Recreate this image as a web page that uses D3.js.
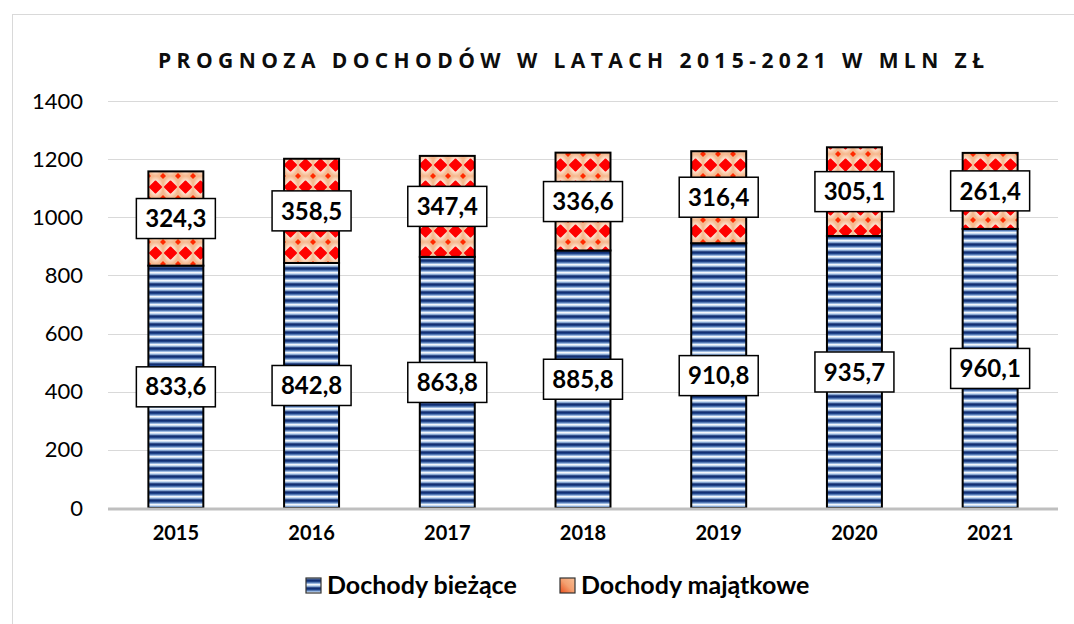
<!DOCTYPE html>
<html>
<head>
<meta charset="utf-8">
<script src="https://cdn.jsdelivr.net/npm/d3@7"></script>
<style>
  html, body { margin: 0; padding: 0; background: #fff; }
  svg { display: block; font-family: Lato, "Open Sans", sans-serif; }
</style>
</head>
<body>
<svg id="chart" width="1074" height="624"></svg>
<script>
const years = ["2015", "2016", "2017", "2018", "2019", "2020", "2021"];
const biezace = [833.6, 842.8, 863.8, 885.8, 910.8, 935.7, 960.1];
const majatkowe = [324.3, 358.5, 347.4, 336.6, 316.4, 305.1, 261.4];
const yTicks = [0, 200, 400, 600, 800, 1000, 1200, 1400];
const seriesNames = ["Dochody bieżące", "Dochody majątkowe"];
const title = "PROGNOZA DOCHODÓW W LATACH 2015-2021 W MLN ZŁ";

const svg = d3.select("#chart");
const plot = { left: 108, right: 1058, top: 101, bottom: 508 };

// chart area border (top and left visible in the frame)
svg.append("rect").attr("x", 12.5).attr("y", 14.5).attr("width", 1100).attr("height", 650)
  .attr("fill", "#fff").attr("stroke", "#d9d9d9").attr("stroke-width", 1);

const defs = svg.append("defs");

// blue stripes pattern
const bg = defs.append("linearGradient").attr("id", "blueGrad")
  .attr("x1", 0).attr("y1", 0).attr("x2", 0).attr("y2", 1);
[[0, "#0a2568"], [0.22, "#24498f"], [0.42, "#8fb0dc"], [0.58, "#ffffff"], [0.78, "#9dbde4"], [1, "#0a2568"]]
  .forEach(([o, c]) => bg.append("stop").attr("offset", o).attr("stop-color", c));
const bp = defs.append("pattern").attr("id", "bluePat").attr("patternUnits", "userSpaceOnUse")
  .attr("width", 20).attr("height", 8).attr("y", plot.bottom);
bp.append("rect").attr("width", 20).attr("height", 8).attr("fill", "url(#blueGrad)");

// red diamond pattern
const rg = defs.append("radialGradient").attr("id", "peachGrad");
[[0, "#ffffff"], [0.45, "#fff0e4"], [1, "#f6b98f"]]
  .forEach(([o, c]) => rg.append("stop").attr("offset", o).attr("stop-color", c));
const pw = 15, ph = 22;
const rp = defs.append("pattern").attr("id", "redPat").attr("patternUnits", "userSpaceOnUse")
  .attr("width", pw).attr("height", ph).attr("x", 148);
rp.append("rect").attr("width", pw).attr("height", ph).attr("fill", "url(#peachGrad)");
const dia = (cx, cy, r) => `M${cx},${cy - r}L${cx + r},${cy}L${cx},${cy + r}L${cx - r},${cy}Z`;
rp.append("path").attr("d", dia(pw / 2, ph / 2, 5.5)).attr("fill", "#ff0000")
  .attr("stroke", "#ff0000").attr("stroke-width", 2).attr("stroke-linejoin", "round");
[[0, 0], [pw, 0], [0, ph], [pw, ph]].forEach(([cx, cy]) =>
  rp.append("path").attr("d", dia(cx, cy, 3)).attr("fill", "#ff2a00"));

// legend orange gradient
const og = defs.append("linearGradient").attr("id", "orangeGrad")
  .attr("x1", 1).attr("y1", 0).attr("x2", 0).attr("y2", 1);
[[0, "#f8bf96"], [0.5, "#f4a070"], [1, "#e94e1b"]]
  .forEach(([o, c]) => og.append("stop").attr("offset", o).attr("stop-color", c));

const x = d3.scaleBand().domain(years).range([plot.left, plot.right]).paddingInner(0.595).paddingOuter(0.2975);
const y = d3.scaleLinear().domain([0, 1400]).range([plot.bottom, plot.top]);

// gridlines
svg.append("g").selectAll("line").data(yTicks.filter(d => d > 0)).join("line")
  .attr("x1", plot.left).attr("x2", plot.right)
  .attr("y1", d => Math.round(y(d)) + 0.5).attr("y2", d => Math.round(y(d)) + 0.5)
  .attr("stroke", "#d9d9d9").attr("stroke-width", 1);

// y axis labels
const yAxis = d3.axisLeft(y).tickValues(yTicks).tickSize(0).tickPadding(0).tickFormat(d3.format("d"));
const ya = svg.append("g").attr("transform", `translate(83,0)`).call(yAxis);
ya.select(".domain").remove();
ya.selectAll("text").attr("font-size", 22).attr("fill", "#000").attr("font-family", "Lato, sans-serif");

// bars
const data = years.map((yr, i) => ({ yr, a: biezace[i], b: majatkowe[i] }));
const g = svg.append("g");
data.forEach(d => {
  g.append("rect").attr("x", x(d.yr)).attr("width", x.bandwidth())
    .attr("y", y(d.a)).attr("height", y(0) - y(d.a))
    .attr("fill", "url(#bluePat)").attr("stroke", "#000").attr("stroke-width", 2);
  g.append("rect").attr("x", x(d.yr)).attr("width", x.bandwidth())
    .attr("y", y(d.a + d.b)).attr("height", y(d.a) - y(d.a + d.b))
    .attr("fill", "url(#redPat)").attr("stroke", "#000").attr("stroke-width", 2);
});

// x axis line
svg.append("line").attr("x1", plot.left).attr("x2", plot.right)
  .attr("y1", plot.bottom + 1).attr("y2", plot.bottom + 1)
  .attr("stroke", "#bfbfbf").attr("stroke-width", 3);

// x labels
const xAxis = d3.axisBottom(x).tickSize(0).tickPadding(0);
const xa = svg.append("g").attr("transform", `translate(0,${plot.bottom + 18})`).call(xAxis);
xa.select(".domain").remove();
xa.selectAll("text").attr("font-size", 20).attr("font-weight", "bold").attr("fill", "#000")
  .attr("font-family", "Lato, sans-serif");

// data labels
const fmt = v => v.toFixed(1).replace(".", ",");
const labels = [];
data.forEach(d => {
  labels.push({ x: x(d.yr) + x.bandwidth() / 2, y: y(d.a / 2), t: fmt(d.a) });
  labels.push({ x: x(d.yr) + x.bandwidth() / 2, y: y(d.a + d.b / 2), t: fmt(d.b) });
});
const lg = svg.append("g").selectAll("g").data(labels).join("g")
  .attr("transform", d => `translate(${d.x},${d.y})`);
lg.append("rect").attr("x", -39.5).attr("y", -20).attr("width", 79).attr("height", 40)
  .attr("fill", "#fff").attr("stroke", "#000").attr("stroke-width", 1.5);
lg.append("text").attr("text-anchor", "middle").attr("dy", "0.36em")
  .attr("font-size", 24).attr("font-weight", "bold").attr("fill", "#000").text(d => d.t);

// title
svg.append("text").attr("x", 158).attr("y", 68)
  .attr("font-size", 21).attr("font-weight", "bold").attr("fill", "#0d0d0d")
  .attr("font-family", "'Open Sans', sans-serif")
  .attr("textLength", 826).attr("lengthAdjust", "spacing").text(title);

// legend
const leg = svg.append("g");
const items = [
  { x: 306, fill: "url(#bluePat)", label: seriesNames[0] },
  { x: 560, fill: "url(#orangeGrad)", label: seriesNames[1] }
];
items.forEach(it => {
  leg.append("rect").attr("x", it.x).attr("y", 578).attr("width", 15).attr("height", 15)
    .attr("fill", it.fill).attr("stroke", "#333").attr("stroke-width", 1.2);
  leg.append("text").attr("x", it.x + 21).attr("y", 594).attr("font-size", 25)
    .attr("font-weight", "bold").attr("fill", "#000").text(it.label);
});
</script>
</body>
</html>
